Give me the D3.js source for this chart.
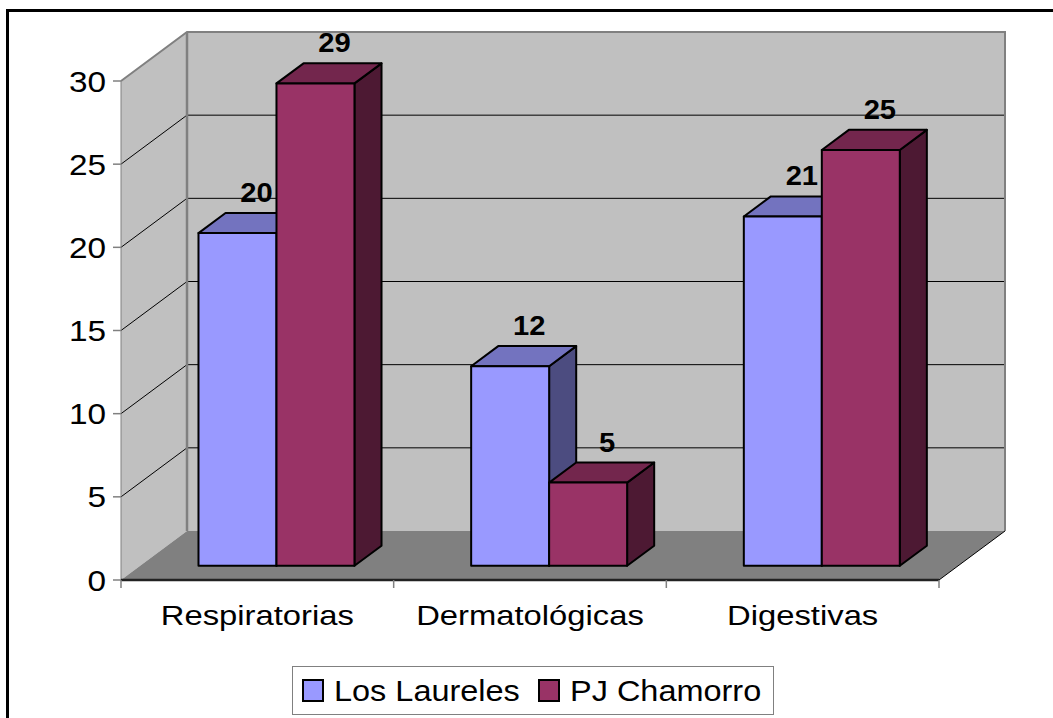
<!DOCTYPE html>
<html>
<head>
<meta charset="utf-8">
<script src="https://cdn.jsdelivr.net/npm/d3@7"></script>
<style>
  body { margin: 0; background: #fff; }
  svg { display: block; }
  text { font-family: Arial, "Liberation Sans", sans-serif; }
</style>
</head>
<body>
<svg width="1053" height="718"></svg>
<script>
const categories = ['Respiratorias', 'Dermatológicas', 'Digestivas'];
const series = ['Los Laureles', 'PJ Chamorro'];
const losLaureles = [20, 12, 21];
const pjChamorro = [29, 5, 25];
const yTicks = [0, 5, 10, 15, 20, 25, 30];

const faceColors = {
  'Los Laureles': { front: '#9999ff', top: '#7373bf', side: '#4c4c80' },
  'PJ Chamorro': { front: '#993366', top: '#73264d', side: '#4d1933' }
};

const svg = d3.select('svg');
const stretch = 1.15;

// 3d box geometry
const depthX = 66, depthY = 49;
const barD0 = 0.29, barD1 = 0.70;
const proj = (x, y, d) => [x + d * depthX, y - d * depthY];

const x0 = d3.scaleBand().domain(categories).range([121, 939]);
const step = x0.step();
const x1 = d3.scaleBand().domain(series).range([step * 0.214, step * 0.786]);
const y = d3.scaleLinear().domain([0, 30]).range([580, 81]);

const pLeft = 121, pRight = 939, pBottom = y(0), pTop = y(30);

// outer border
svg.append('rect')
  .attr('x', 7.5).attr('y', 10.5)
  .attr('width', 1100).attr('height', 800)
  .attr('fill', 'none').attr('stroke', '#000').attr('stroke-width', 3);

const line = d3.line();

// side wall
svg.append('path')
  .attr('d', line([[pLeft, pTop], proj(pLeft, pTop, 1), proj(pLeft, pBottom, 1), [pLeft, pBottom]]) + 'Z')
  .attr('fill', '#c0c0c0');

// back wall
svg.append('path')
  .attr('d', line([proj(pLeft, pTop, 1), proj(pRight, pTop, 1), proj(pRight, pBottom, 1), proj(pLeft, pBottom, 1)]) + 'Z')
  .attr('fill', '#c0c0c0');

// floor
svg.append('path')
  .attr('d', line([[pLeft, pBottom], [pRight, pBottom], proj(pRight, pBottom, 1), proj(pLeft, pBottom, 1)]) + 'Z')
  .attr('fill', '#808080');

// gridlines
const grid = svg.append('g');
yTicks.filter(t => t > 0 && t < 30).forEach(t => {
  const yy = y(t);
  grid.append('path')
    .attr('d', line([[pLeft, yy], proj(pLeft, yy, 1), proj(pRight, yy, 1)]))
    .attr('fill', 'none').attr('stroke', '#000').attr('stroke-width', 1);
});

// wall edges
svg.append('path')
  .attr('d', line([[pLeft, pTop], proj(pLeft, pTop, 1), proj(pRight, pTop, 1), proj(pRight, pBottom, 1)]))
  .attr('fill', 'none').attr('stroke', '#808080').attr('stroke-width', 2);
svg.append('path')
  .attr('d', line([proj(pLeft, pTop, 1), proj(pLeft, pBottom, 1)]))
  .attr('fill', 'none').attr('stroke', '#808080').attr('stroke-width', 2.5);
svg.append('path')
  .attr('d', line([[pRight, pBottom], proj(pRight, pBottom, 1)]))
  .attr('fill', 'none').attr('stroke', '#000').attr('stroke-width', 1);
svg.append('line')
  .attr('x1', pLeft).attr('x2', pLeft).attr('y1', pTop).attr('y2', pBottom)
  .attr('stroke', '#808080').attr('stroke-width', 1);
svg.append('line')
  .attr('x1', pLeft).attr('x2', pRight).attr('y1', pBottom).attr('y2', pBottom)
  .attr('stroke', '#222').attr('stroke-width', 2.5);

// y axis ticks & labels
const yAxis = svg.append('g');
yTicks.forEach(t => {
  yAxis.append('line')
    .attr('x1', pLeft - 8).attr('x2', pLeft).attr('y1', y(t)).attr('y2', y(t))
    .attr('stroke', '#808080').attr('stroke-width', 1.5);
  yAxis.append('text')
    .attr('transform', `translate(${pLeft - 15},${y(t) + 10.5}) scale(${stretch},1)`)
    .attr('text-anchor', 'end')
    .attr('font-size', 29)
    .text(t);
});

// x axis ticks & labels
d3.range(categories.length + 1).forEach(i => {
  const xx = pLeft + i * step;
  svg.append('line')
    .attr('x1', xx).attr('x2', xx).attr('y1', pBottom).attr('y2', pBottom + 8)
    .attr('stroke', '#808080').attr('stroke-width', 1.5);
});
categories.forEach(c => {
  svg.append('text')
    .attr('transform', `translate(${x0(c) + step / 2},${pBottom + 45}) scale(${stretch},1)`)
    .attr('text-anchor', 'middle')
    .attr('font-size', 28.5)
    .text(c);
});

// bars
const bars = [];
categories.forEach((c, i) => {
  bars.push({ cat: c, s: 'Los Laureles', v: losLaureles[i] });
  bars.push({ cat: c, s: 'PJ Chamorro', v: pjChamorro[i] });
});

const barG = svg.append('g').attr('stroke', '#000').attr('stroke-width', 2).attr('stroke-linejoin', 'round');
bars.forEach(b => {
  const xa = x0(b.cat) + x1(b.s);
  const xb = xa + x1.bandwidth();
  const yb = y(0), yt = y(b.v);
  const col = faceColors[b.s];
  // side
  barG.append('path')
    .attr('d', line([proj(xb, yt, barD0), proj(xb, yt, barD1), proj(xb, yb, barD1), proj(xb, yb, barD0)]) + 'Z')
    .attr('fill', col.side);
  // top
  barG.append('path')
    .attr('d', line([proj(xa, yt, barD0), proj(xa, yt, barD1), proj(xb, yt, barD1), proj(xb, yt, barD0)]) + 'Z')
    .attr('fill', col.top);
  // front
  barG.append('path')
    .attr('d', line([proj(xa, yt, barD0), proj(xb, yt, barD0), proj(xb, yb, barD0), proj(xa, yb, barD0)]) + 'Z')
    .attr('fill', col.front);
  b.lx = (xa + xb) / 2 + barD1 * depthX - 8;
  b.ly = proj(xa, yt, barD1)[1] - 11;
});

// value labels
bars.forEach(b => {
  svg.append('text')
    .attr('transform', `translate(${b.lx},${b.ly}) scale(1.08,1)`)
    .attr('text-anchor', 'middle')
    .attr('font-size', 27)
    .attr('font-weight', 'bold')
    .text(b.v);
});

// legend
const legend = svg.append('g');
legend.append('rect')
  .attr('x', 292.5).attr('y', 666.5).attr('width', 481).attr('height', 48)
  .attr('fill', '#fff').attr('stroke', '#808080').attr('stroke-width', 1);
const legendX = [303, 539];
series.forEach((s, i) => {
  legend.append('rect')
    .attr('x', legendX[i]).attr('y', 680).attr('width', 20).attr('height', 21)
    .attr('fill', faceColors[s].front).attr('stroke', '#000').attr('stroke-width', 2);
  legend.append('text')
    .attr('transform', `translate(${legendX[i] + 31},${701}) scale(1.12,1)`)
    .attr('font-size', 29)
    .text(s);
});
</script>
</body>
</html>
